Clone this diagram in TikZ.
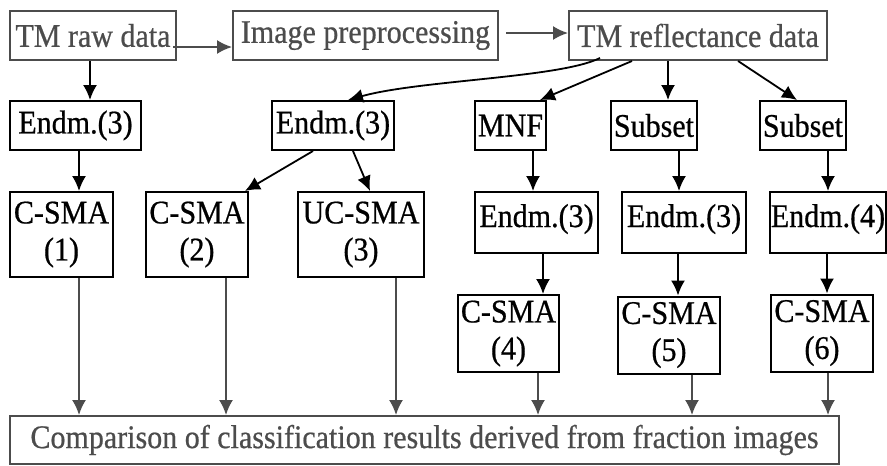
\documentclass[tikz,border=0pt]{standalone}
\usepackage{fontspec}
\setmainfont{Liberation Serif}[FakeStretch=0.91, FakeBold=0.6]
\usetikzlibrary{arrows.meta}
\definecolor{dimgray}{gray}{0.3}
\tikzset{
  box/.style={draw, line width=2pt, inner sep=0pt, align=center,
    font=\fontsize{33}{37}\selectfont},
  topbox/.style={box, draw=dimgray, text=dimgray},
  highbox/.style={box, text height=23pt, text depth=14pt},
  arr/.style={line width=1.8pt, -{Latex[length=15pt,width=14pt]}},
}
\begin{document}
\begin{tikzpicture}[x=1pt,y=-1pt]
  \useasboundingbox (0,0) rectangle (887,466);
  \node[topbox, minimum width=166pt, minimum height=49pt] (raw)  at (93,35.5)  {TM raw data};
  \node[topbox, minimum width=265pt, minimum height=49pt] (pre)  at (365.5,35.5) {Image preprocessing};
  \node[topbox, minimum width=258pt, minimum height=49pt] (refl) at (698,35.5) {TM reflectance data};

  \node[box, minimum width=131pt, minimum height=49pt] (ea)   at (75.5,125.5) {Endm.(3)};
  \node[box, minimum width=122pt, minimum height=49pt] (eb)   at (333,125.5)  {Endm.(3)};
  \node[box, minimum width=71pt,  minimum height=49pt] (mnf)  at (510.5,125.5) {MNF};
  \node[box, minimum width=86pt,  minimum height=49pt] (sub1) at (654,125.5)  {Subset};
  \node[box, minimum width=86pt,  minimum height=49pt] (sub2) at (803,125.5)  {Subset};

  \node[box, minimum width=103pt, minimum height=85pt] (sma1) at (61.5,234.5) {C-SMA\\(1)};
  \node[box, minimum width=102pt, minimum height=85pt] (sma2) at (197,234.5)  {C-SMA\\(2)};
  \node[box, minimum width=126pt, minimum height=85pt] (sma3) at (361,234.5)  {UC-SMA\\(3)};
  \node[highbox, minimum width=123pt, minimum height=61pt] (ec) at (536.5,222.5) {Endm.(3)};
  \node[highbox, minimum width=124pt, minimum height=61pt] (ed) at (684,222.5)   {Endm.(3)};
  \node[highbox, minimum width=116pt, minimum height=61pt] (ee) at (828,222.5)   {Endm.(4)};

  \node[box, minimum width=101pt, minimum height=77pt] (sma4) at (508.5,333.5) {C-SMA\\(4)};
  \node[box, minimum width=102pt, minimum height=77pt] (sma5) at (669,335)     {C-SMA\\(5)};
  \node[box, minimum width=102pt, minimum height=77pt] (sma6) at (822,333)     {C-SMA\\(6)};

  \node[topbox, minimum width=829pt, minimum height=48pt] (comp) at (424.5,440)
    {Comparison of classification results derived from fraction images};

  \draw[arr] (raw.south -| 90,0) -- (ea.north -| 90,0);
  \draw[arr, dimgray] ([xshift=-4pt]raw.east |- 0,47) -- (pre.west |- 0,47);
  \draw[arr, dimgray] ([xshift=7pt]pre.east |- 0,33) -- (refl.west |- 0,33);
  \draw[arr] ([yshift=3pt]refl.south -| 600,0) .. controls (560,78) and (420,80) .. (eb.north -| 348,0);
  \draw[arr] (refl.south -| 632,0) -- (mnf.north -| 540,0);
  \draw[arr] (refl.south -| 668,0) -- (sub1.north -| 668,0);
  \draw[arr] (refl.south -| 738,0) -- (sub2.north -| 797,0);

  \draw[arr] (ea.south -| 79,0) -- (sma1.north -| 79,0);
  \draw[arr] (eb.south -| 313,0) -- (sma2.north -| 245,0);
  \draw[arr] (eb.south -| 353,0) -- (sma3.north -| 370,0);
  \draw[arr] (mnf.south -| 533,0) -- (ec.north -| 533,0);
  \draw[arr] (sub1.south -| 679,0) -- (ed.north -| 679,0);
  \draw[arr] (sub2.south -| 828,0) -- (ee.north -| 828,0);
  \draw[arr] (ec.south -| 543,0) -- (sma4.north -| 543,0);
  \draw[arr] (ed.south -| 678,0) -- (sma5.north -| 678,0);
  \draw[arr] (ee.south -| 827,0) -- (sma6.north -| 827,0);

  \foreach \s/\x in {sma1/79, sma2/226, sma3/396, sma4/538, sma5/692, sma6/828}
    \draw[arr, dimgray] (\s.south -| \x,0) -- (comp.north -| \x,0);
\end{tikzpicture}
\end{document}
